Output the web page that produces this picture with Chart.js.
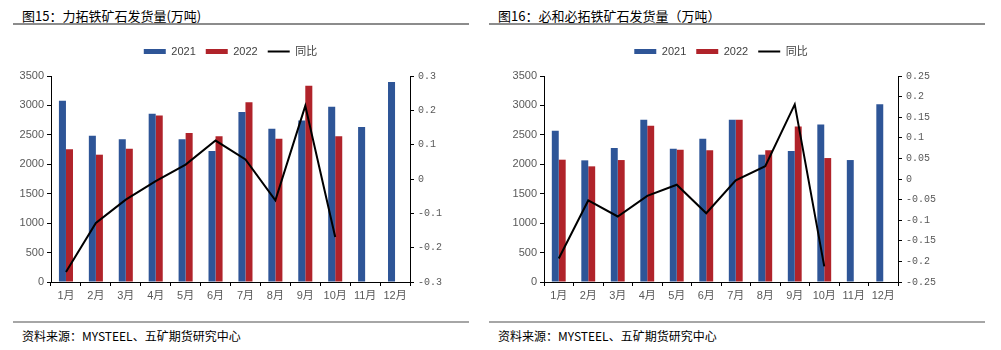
<!DOCTYPE html>
<html>
<head>
  <meta charset="utf-8" />
  <script src="https://cdn.jsdelivr.net/npm/chart.js@4.4.1/dist/chart.umd.min.js"></script>
  <style>
    body{margin:0;background:#fff;width:1001px;height:350px;overflow:hidden;position:relative;
      font-family:'Liberation Sans Narrow','Liberation Sans','Noto Sans CJK SC',sans-serif;color:#000;}
    .title{position:absolute;top:6px;font-size:13px;font-family:'Noto Sans CJK SC',sans-serif;white-space:nowrap;}
    .rule{position:absolute;height:2px;}
    .top-rule{top:23px;background:#8c8c8c;}
    .bot-rule{top:321px;background:#a6a6a6;}
    .src{position:absolute;top:327px;font-size:12px;font-family:'Noto Sans CJK SC',sans-serif;white-space:nowrap;}
    canvas{position:absolute;top:36px;}
  </style>
</head>
<body>
  <div class="title" style="left:22px">图15：力拓铁矿石发货量(万吨)</div>
  <div class="title" style="left:498px">图16：必和必拓铁矿石发货量（万吨）</div>
  <div class="rule top-rule" style="left:13px;width:456px"></div>
  <div class="rule top-rule" style="left:489px;width:496px"></div>

  <canvas id="rioChart" width="490" height="274" style="left:0"></canvas>
  <canvas id="bhpChart" width="511" height="274" style="left:490px"></canvas>

  <div class="rule bot-rule" style="left:13px;width:456px"></div>
  <div class="rule bot-rule" style="left:489px;width:496px"></div>
  <div class="src" style="left:22px">资料来源：MYSTEEL、五矿期货研究中心</div>
  <div class="src" style="left:498px">资料来源：MYSTEEL、五矿期货研究中心</div>

<script>
/* ---------- Data ---------- */
const months = ['1月','2月','3月','4月','5月','6月','7月','8月','9月','10月','11月','12月'];
const seriesNames = ['2021', '2022', '同比'];

// Rio Tinto shipments, 10k t
const rio2021 = [3080, 2486, 2424, 2860, 2424, 2225, 2888, 2605, 2746, 2978, 2633, 3397];
const rio2022 = [2254, 2163, 2265, 2831, 2531, 2475, 3052, 2435, 3335, 2475];
const rioYoy  = [-0.271, -0.128, -0.060, -0.006, 0.042, 0.112, 0.057, -0.062, 0.213, -0.169];

// BHP shipments, 10k t
const bhp2021 = [2571, 2067, 2276, 2758, 2265, 2435, 2758, 2163, 2225, 2678, 2072, 3018];
const bhp2022 = [2078, 1965, 2072, 2656, 2248, 2237, 2758, 2237, 2644, 2106];
const bhpYoy  = [-0.193, -0.052, -0.091, -0.041, -0.014, -0.083, -0.003, 0.031, 0.181, -0.212];

/* ---------- Style ---------- */
const BLUE = '#2e5597', RED = '#b0232a', INK = '#000';
const TICK_COLOR = '#595959';
const NARROW = "'Liberation Sans Narrow','Liberation Sans','Noto Sans CJK SC',sans-serif";
const MONO = "'Liberation Mono','DejaVu Sans Mono',monospace";
const LEGEND_EXTRA = 9;   // extra room between legend and plot

// push the plot area down a little below the legend
const legendGap = {
  id: 'legendGap',
  beforeUpdate(chart){
    const lg = chart.legend;
    if(lg && !lg._gapPatched){
      const fit = lg.fit;
      lg.fit = function(){ fit.call(this); this.height += LEGEND_EXTRA; };
      lg._gapPatched = true;
    }
  }
};

function makeChart(id, v2021, v2022, yoy, leftW, rightW, yoyMin, yoyMax, yoyStep){
  return new Chart(document.getElementById(id), {
    data: {
      labels: months,
      datasets: [
        { type:'bar', label:seriesNames[0], data:v2021, backgroundColor:BLUE, borderWidth:0, yAxisID:'y', order:1,
          categoryPercentage:0.47, barPercentage:1.0 },
        { type:'bar', label:seriesNames[1], data:v2022, backgroundColor:RED, borderWidth:0, yAxisID:'y', order:1,
          categoryPercentage:0.47, barPercentage:1.0 },
        { type:'line', label:seriesNames[2], data:yoy, borderColor:INK, backgroundColor:INK, borderWidth:2,
          pointRadius:0, tension:0, yAxisID:'y1', order:0 }
      ]
    },
    options: {
      responsive:false,
      animation:false,
      layout:{ padding:0 },
      plugins:{
        tooltip:{ enabled:false },
        legend:{
          position:'top',
          fullSize:false,
          labels:{
            usePointStyle:true,
            pointStyleWidth:22,
            boxHeight:5,
            padding:10,
            color:'#404040',
            font:{ family:NARROW, size:11 },
            sort:(a,b)=>a.datasetIndex - b.datasetIndex,
            generateLabels(chart){
              const items = Chart.defaults.plugins.legend.labels.generateLabels(chart);
              items.forEach(it=>{
                const ds = chart.data.datasets[it.datasetIndex];
                it.pointStyle = ds.type === 'line' ? 'line' : 'rect';
              });
              return items;
            }
          }
        }
      },
      scales:{
        x:{
          grid:{ display:true, drawOnChartArea:false, drawTicks:true, tickLength:4, color:INK, offset:true },
          border:{ display:true, color:INK, width:1 },
          ticks:{ color:TICK_COLOR, font:{ family:NARROW, size:11 }, maxRotation:0, autoSkip:false, padding:3 },
          afterFit(s){ s.height = 28; }
        },
        y:{
          position:'left',
          min:0, max:3500,
          grid:{ display:true, drawOnChartArea:false, drawTicks:true, tickLength:4, color:INK },
          border:{ display:true, color:INK, width:1 },
          ticks:{ stepSize:500, color:TICK_COLOR, font:{ family:NARROW, size:11 }, padding:3,
            callback:v=>String(v) },
          afterFit(s){ s.width = leftW; }
        },
        y1:{
          position:'right',
          min:yoyMin, max:yoyMax,
          grid:{ display:true, drawOnChartArea:false, drawTicks:true, tickLength:4, color:INK },
          border:{ display:true, color:INK, width:1 },
          ticks:{ stepSize:yoyStep, color:TICK_COLOR, font:{ family:MONO, size:10 }, padding:4,
            callback:v=>String(Math.round(v*100)/100) },
          afterFit(s){ s.width = rightW; }
        }
      }
    },
    plugins:[legendGap]
  });
}

makeChart('rioChart', rio2021, rio2022, rioYoy, 51, 80, -0.3, 0.3, 0.1);
makeChart('bhpChart', bhp2021, bhp2022, bhpYoy, 54, 103, -0.25, 0.25, 0.05);
</script>
</body>
</html>
